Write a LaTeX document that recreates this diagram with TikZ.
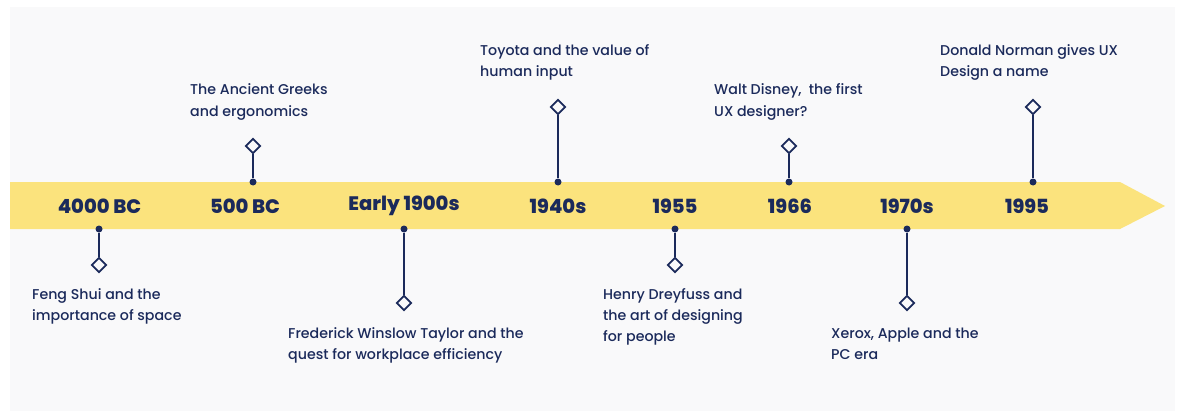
\documentclass[tikz,border=0pt]{standalone}
\usepackage{fontspec}
\setmainfont{Poppins}[UprightFont=* Medium, BoldFont=* ExtraBold]
\usepackage{xcolor}
\usepackage{tikz}
\usetikzlibrary{shapes.geometric}

\definecolor{navy}{HTML}{1B2A5B}
\definecolor{band}{HTML}{FBE37D}
\definecolor{panel}{HTML}{F9F9FA}

\begin{document}
\begin{tikzpicture}[x=1pt, y=-1pt,
  year/.style={text=navy, font=\fontsize{19.5}{22}\selectfont\bfseries, inner sep=0},
  desc/.style={text=navy, font=\fontsize{14.2}{21}\selectfont, align=left, inner sep=0, anchor=base west},
  dot/.style={circle, fill=navy, inner sep=0, minimum size=7pt},
  gem/.style={diamond, draw=navy, fill=panel, line width=1.8pt, inner sep=0, minimum size=15pt},
  stem/.style={draw=navy, line width=1.8pt}]
\useasboundingbox (0,0) rectangle (1178,412);
\fill[panel] (10,7) rectangle (1175,411);
\fill[band] (10,182) -- (1120,182) -- (1165,206) -- (1120,229) -- (10,229) -- cycle;

\node[year] (Y1) at (99.5,206) {4000 BC};
\node[year] (Y2) at (245,206) {500 BC};
\node[year] (Y3) at (404,206) {Early 1900s};
\node[year] (Y4) at (558,206) {1940s};
\node[year] (Y5) at (675,206) {1955};
\node[year] (Y6) at (790,206) {1966};
\node[year] (Y7) at (907,206) {1970s};
\node[year] (Y8) at (1027,206) {1995};

\node[dot] (D1) at (99,229) {};
\node[dot] (D2) at (253,182) {};
\node[dot] (D3) at (404,229) {};
\node[dot] (D4) at (558,182) {};
\node[dot] (D5) at (675,229) {};
\node[dot] (D6) at (789,182) {};
\node[dot] (D7) at (907,229) {};
\node[dot] (D8) at (1033,182) {};

\node[gem] (G1) at (99,265) {};
\node[gem] (G2) at (253,146) {};
\node[gem] (G3) at (404,303) {};
\node[gem] (G4) at (558,107) {};
\node[gem] (G5) at (675,265) {};
\node[gem] (G6) at (789,146) {};
\node[gem] (G7) at (907,303) {};
\node[gem] (G8) at (1033,107) {};

\path[stem] (D1) -- (G1);
\path[stem] (D2) -- (G2);
\path[stem] (D3) -- (G3);
\path[stem] (D4) -- (G4);
\path[stem] (D5) -- (G5);
\path[stem] (D6) -- (G6);
\path[stem] (D7) -- (G7);
\path[stem] (D8) -- (G8);

% base anchor sits on the last line
\node[desc] (T1) at (32,320) {Feng Shui and the\\importance of space};
\node[desc] (T2) at (190,116) {The Ancient Greeks\\and ergonomics};
\node[desc] (T3) at (288,359) {Frederick Winslow Taylor and the\\quest for workplace efficiency};
\node[desc] (T4) at (480,77) {Toyota and the value of\\human input};
\node[desc] (T5) at (603,341) {Henry Dreyfuss and\\the art of designing\\for people};
\node[desc] (T6) at (714,116) {Walt Disney,\ \ the first\\UX designer?};
\node[desc] (T7) at (831,359) {Xerox, Apple and the\\PC era};
\node[desc] (T8) at (940,77) {Donald Norman gives UX\\Design a name};
\end{tikzpicture}
\end{document}
